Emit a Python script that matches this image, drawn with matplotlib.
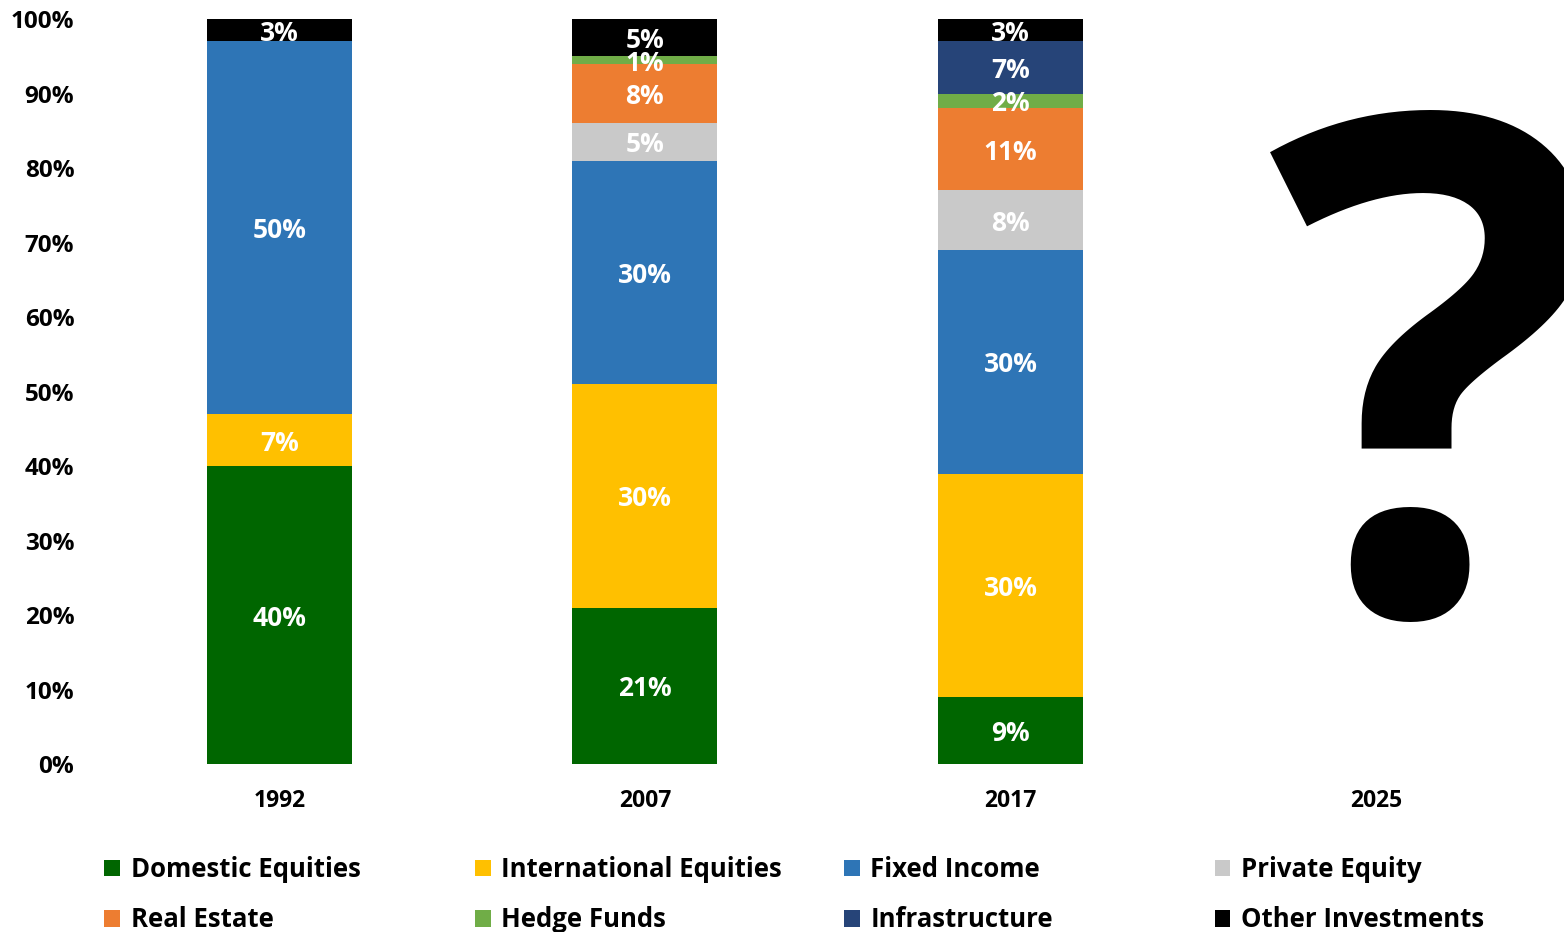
import numpy as np
import matplotlib
matplotlib.use("Agg")
import matplotlib.pyplot as plt
from matplotlib.patches import Patch

plt.rcParams['font.family'] = ['Open Sans', 'DejaVu Sans']

years = ['1992', '2007', '2017', '2025']
series = ['Domestic Equities', 'International Equities', 'Fixed Income', 'Private Equity',
          'Real Estate', 'Hedge Funds', 'Infrastructure', 'Other Investments']
colors = ['#006600', '#FFC000', '#2E75B6', '#C9C9C9',
          '#ED7D31', '#70AD47', '#264478', '#000000']

domestic = [40, 21, 9, 0]
international = [7, 30, 30, 0]
fixed_income = [50, 30, 30, 0]
private_equity = [0, 5, 8, 0]
real_estate = [0, 8, 11, 0]
hedge_funds = [0, 1, 2, 0]
infrastructure = [0, 0, 7, 0]
other = [3, 5, 3, 0]

values = [domestic, international, fixed_income, private_equity,
          real_estate, hedge_funds, infrastructure, other]

fig = plt.figure(figsize=(15.64, 9.32), dpi=100)
ax = fig.add_axes([0.0617, 0.180, 0.935, 0.7996])

x = np.arange(len(years))
bottom = np.zeros(len(years))
for name, vals, col in zip(series, values, colors):
    vals = np.array(vals, dtype=float)
    ax.bar(x, vals, bottom=bottom, width=0.396, color=col, label=name)
    for xi, v, b in zip(x, vals, bottom):
        if v > 0:
            ax.text(xi, b + v / 2, f'{v:.0f}%', ha='center', va='center_baseline',
                    color='white', fontsize=19, fontweight='bold')
    bottom += vals

ax.set_xlim(-0.5, 3.5)
ax.set_ylim(0, 100)
ax.set_yticks(np.arange(0, 101, 10))
ax.set_yticklabels([f'{t}%' for t in range(0, 101, 10)], fontsize=17.5, fontweight='bold')
ax.set_xticks(x)
ax.set_xticklabels(years, fontsize=16.5, fontweight='bold')
ax.tick_params(length=0)
ax.tick_params(axis='x', pad=18)
ax.tick_params(axis='y', pad=16)
for s in ax.spines.values():
    s.set_visible(False)

# legend: four columns, each its own legend for even spacing
col_x = [0.052, 0.289, 0.525, 0.762]
for c in range(4):
    handles = [Patch(facecolor=colors[c], label=series[c]),
               Patch(facecolor=colors[c + 4], label=series[c + 4])]
    fig.legend(handles=handles, loc='upper left', bbox_to_anchor=(col_x[c], 0.106),
               frameon=False, handlelength=0.6, handleheight=0.6,
               handletextpad=0.42, labelspacing=0.9, prop={'weight': 'bold', 'size': 18.5})

# big question mark over the empty 2025 column
fig.text(0.811, 0.342, '?', fontsize=500, fontweight='bold', ha='left', va='baseline',
         color='black')

fig.savefig('out.png', dpi=100)
